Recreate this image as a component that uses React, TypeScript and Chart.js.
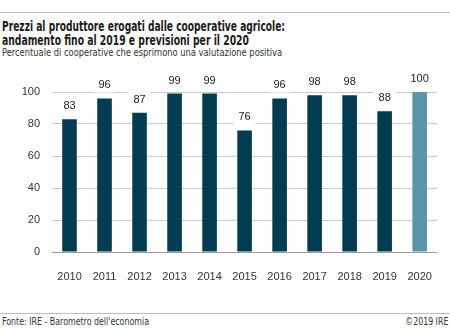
import React, { useEffect, useLayoutEffect, useRef } from "react";
import { Chart, registerables } from "chart.js";

Chart.register(...registerables);

const years = ["2010", "2011", "2012", "2013", "2014", "2015", "2016", "2017", "2018", "2019", "2020"];
const values = [83, 96, 87, 99, 99, 76, 96, 98, 98, 88, 100];
const barColors = ["#023c50", "#023c50", "#023c50", "#023c50", "#023c50", "#023c50", "#023c50", "#023c50", "#023c50", "#023c50", "#5a94aa"];
const yMin = 0;
const yMax = 100;
const yStep = 20;

const titleLines = [
  "Prezzi al produttore erogati dalle cooperative agricole:",
  "andamento fino al 2019 e previsioni per il 2020",
];
const subtitle = "Percentuale di cooperative che esprimono una valutazione positiva";
const sourceText = "Fonte: IRE - Barometro dell'economia";
const copyrightText = "©2019 IRE";

const condensed = '"Liberation Sans Narrow", "DejaVu Sans Condensed", "Liberation Sans", sans-serif';

type FitProps = {
  text: string;
  top: number;
  left?: number;
  right?: number;
  width: number;
  style: React.CSSProperties;
};

function Fit({ text, top, left, right, width, style }: FitProps) {
  const ref = useRef<HTMLSpanElement>(null);
  useLayoutEffect(() => {
    const fit = () => {
      const el = ref.current;
      if (!el) return;
      el.style.transform = "none";
      const w = el.getBoundingClientRect().width;
      if (w > 0) el.style.transform = `scaleX(${width / w})`;
    };
    fit();
    if ((document as any).fonts && (document as any).fonts.ready) {
      (document as any).fonts.ready.then(fit);
    }
  }, [text, width]);
  return (
    <span
      ref={ref}
      style={{
        position: "absolute",
        top,
        left,
        right,
        whiteSpace: "nowrap",
        transformOrigin: right !== undefined ? "right top" : "left top",
        ...style,
      }}
    >
      {text}
    </span>
  );
}

const labelPlugin = {
  id: "barLabels",
  afterDatasetsDraw(chart: any) {
    const ctx = chart.ctx;
    const meta = chart.getDatasetMeta(0);
    ctx.save();
    ctx.font = '11px "Liberation Sans", Arial, sans-serif';
    ctx.textAlign = "center";
    ctx.textBaseline = "middle";
    meta.data.forEach((bar: any, i: number) => {
      const cy = bar.y - 13;
      ctx.fillStyle = "#ffffff";
      ctx.fillRect(bar.x - 11, cy - 8, 22, 15);
      ctx.fillStyle = "#222222";
      ctx.fillText(String(values[i]), bar.x, cy);
    });
    ctx.restore();
  },
};

export default function App() {
  const canvasRef = useRef<HTMLCanvasElement>(null);

  useEffect(() => {
    const canvas = canvasRef.current;
    if (!canvas) return;
    const chart = new Chart(canvas, {
      type: "bar",
      data: {
        labels: years,
        datasets: [
          {
            data: values,
            backgroundColor: barColors,
            borderWidth: 0,
            barPercentage: 15 / 36,
            categoryPercentage: 1,
          },
        ],
      },
      options: {
        responsive: false,
        animation: false,
        devicePixelRatio: 1,
        layout: { padding: { top: 32, right: 2, left: 0, bottom: 0 } },
        plugins: {
          legend: { display: false },
          tooltip: { enabled: false },
          title: { display: false },
        },
        scales: {
          x: {
            grid: { display: false, drawTicks: false },
            border: { display: false },
            ticks: {
              color: "#333333",
              font: { family: '"Liberation Sans", Arial, sans-serif', size: 11 },
              padding: 18,
              maxRotation: 0,
            },
            afterFit: (s: any) => {
              s.height = 48;
            },
          },
          y: {
            min: yMin,
            max: yMax,
            grid: {
              color: (c: any) => (c.tick && c.tick.value === 0 ? "#9a9a9a" : "#cccccc"),
              lineWidth: 1,
              drawTicks: false,
            },
            border: { display: false },
            ticks: {
              stepSize: yStep,
              color: "#333333",
              font: { family: '"Liberation Sans", Arial, sans-serif', size: 11 },
              padding: 12,
            },
            afterFit: (s: any) => {
              s.width = 52;
            },
          },
        },
      },
      plugins: [labelPlugin],
    });
    return () => chart.destroy();
  }, []);

  return (
    <div
      style={{
        position: "fixed",
        top: 0,
        left: 0,
        width: 450,
        height: 329,
        background: "#ffffff",
        overflow: "hidden",
      }}
    >
      <div style={{ position: "absolute", top: 12, left: 0, width: 450, height: 1, background: "#bdbdbd" }} />
      <Fit
        text={titleLines[0]}
        top={17.5}
        left={2}
        width={283}
        style={{ fontFamily: condensed, fontWeight: 700, fontSize: 14, lineHeight: "16px", color: "#1a1a1a" }}
      />
      <Fit
        text={titleLines[1]}
        top={31.5}
        left={2}
        width={247}
        style={{ fontFamily: condensed, fontWeight: 700, fontSize: 14, lineHeight: "16px", color: "#1a1a1a" }}
      />
      <Fit
        text={subtitle}
        top={46.5}
        left={2}
        width={280}
        style={{ fontFamily: condensed, fontWeight: 400, fontSize: 10, lineHeight: "12px", color: "#333333" }}
      />
      <div style={{ position: "absolute", top: 60, left: 0, width: 450, height: 240 }}>
        <canvas ref={canvasRef} width={450} height={240} style={{ width: 450, height: 240, display: "block" }} />
      </div>
      <div style={{ position: "absolute", top: 313, left: 0, width: 450, height: 1, background: "#bdbdbd" }} />
      <Fit
        text={sourceText}
        top={315.5}
        left={2}
        width={147}
        style={{ fontFamily: condensed, fontWeight: 400, fontSize: 10, lineHeight: "12px", color: "#333333" }}
      />
      <Fit
        text={copyrightText}
        top={315.5}
        right={2}
        width={43}
        style={{ fontFamily: condensed, fontWeight: 400, fontSize: 10, lineHeight: "12px", color: "#333333" }}
      />
    </div>
  );
}
